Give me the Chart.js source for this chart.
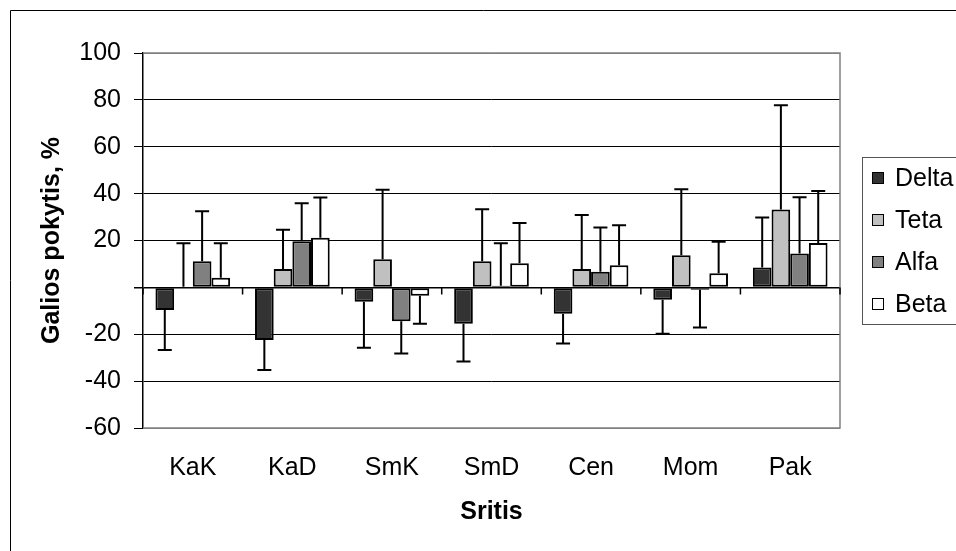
<!DOCTYPE html>
<html>
<head>
<meta charset="utf-8">
<title>Galios pokytis</title>
<script src="https://cdn.jsdelivr.net/npm/chart.js@4.4.1/dist/chart.umd.min.js"></script>
<style>
  html, body { margin: 0; padding: 0; background: #fff; }
  canvas { display: block; }
</style>
</head>
<body>
<canvas id="myChart" width="956" height="551"></canvas>
<script>
// Categories (Sritis)
const categories = ['KaK', 'KaD', 'SmK', 'SmD', 'Cen', 'Mom', 'Pak'];

// Mean power change per band, %
const deltaValues = [-9.6, -22.4, -6.1, -15.5, -11.3, -5.3, 8.5];
const tetaValues  = [0.3, 7.8, 12.0, 11.2, 7.8, 13.7, 33.2];
const alfaValues  = [11.1, 19.7, -14.5, 0.7, 6.7, -1.0, 14.5];
const betaValues  = [4.1, 21.2, -3.6, 10.3, 9.4, 6.0, 18.9];

// Standard deviations (one-sided error bars)
const deltaErrors = [17.1, 12.8, 19.7, 16.1, 12.6, 14.5, 21.3];
const tetaErrors  = [18.5, 16.8, 29.7, 22.1, 23.1, 28.2, 44.5];
const alfaErrors  = [21.4, 16.2, 13.7, 18.1, 18.9, 16.1, 24.0];
const betaErrors  = [14.7, 17.1, 11.9, 17.2, 17.1, 13.5, 22.2];

// Y axis ticks (zero has no label)
const yTickValues = [100, 80, 60, 40, 20, 0, -20, -40, -60];
const yTickLabels = ['100', '80', '60', '40', '20', '', '-20', '-40', '-60'];

const FONT = '"Liberation Sans", Arial, sans-serif';
const FONT_SIZE = 25;

// frame, plot border, axis ticks, error bars and the boxed legend
const extras = {
  id: 'extras',
  beforeDatasetsDraw(chart) {
    const ctx = chart.ctx;
    const a = chart.chartArea;
    ctx.save();
    // outer chart frame (left and top edges)
    ctx.strokeStyle = '#000';
    ctx.lineWidth = 1;
    ctx.beginPath();
    ctx.moveTo(10.5, chart.height);
    ctx.lineTo(10.5, 10.5);
    ctx.lineTo(chart.width, 10.5);
    ctx.stroke();
    // grey plot area border
    ctx.strokeStyle = '#808080';
    ctx.lineWidth = 1.5;
    ctx.beginPath();
    ctx.moveTo(a.left, a.top);
    ctx.lineTo(a.right, a.top);
    ctx.lineTo(a.right, a.bottom);
    ctx.lineTo(a.left, a.bottom);
    ctx.stroke();
    ctx.restore();
  },
  afterDatasetsDraw(chart) {
    const ctx = chart.ctx;
    const x = chart.scales.x;
    const y = chart.scales.y;
    const zero = y.getPixelForValue(0);
    ctx.save();
    // category separators on the zero line
    ctx.strokeStyle = '#000';
    ctx.lineWidth = 1.5;
    ctx.beginPath();
    for (let i = 0; i <= categories.length; i++) {
      const px = i === 0 ? chart.chartArea.left
        : i === categories.length ? chart.chartArea.right
        : (x.getPixelForValue(i - 1) + x.getPixelForValue(i)) / 2;
      ctx.moveTo(px, zero);
      ctx.lineTo(px, zero + 7);
    }
    ctx.stroke();

    // error bars, drawn away from zero
    ctx.lineWidth = 2;
    chart.data.datasets.forEach((ds, di) => {
      const meta = chart.getDatasetMeta(di);
      meta.data.forEach((bar, i) => {
        const v = ds.data[i];
        const e = ds.errors[i];
        const end = v >= 0 ? v + e : v - e;
        const y0 = y.getPixelForValue(v);
        const y1 = y.getPixelForValue(end);
        ctx.beginPath();
        ctx.moveTo(bar.x, y0);
        ctx.lineTo(bar.x, y1);
        ctx.moveTo(bar.x - 7, y1);
        ctx.lineTo(bar.x + 7, y1);
        ctx.stroke();
      });
    });
    ctx.restore();
  },
  afterDraw(chart) {
    const ctx = chart.ctx;
    const a = chart.chartArea;
    const sets = chart.data.datasets;
    const rowH = 42;
    const left = a.right + 22;
    const h = rowH * sets.length - 1;
    const top = (a.top + a.bottom) / 2 - h / 2;
    ctx.save();
    ctx.strokeStyle = '#555';
    ctx.lineWidth = 1;
    ctx.strokeRect(left + 0.5, Math.round(top) + 0.5, chart.width, Math.round(h));
    ctx.font = FONT_SIZE + 'px ' + FONT;
    ctx.textBaseline = 'middle';
    ctx.fillStyle = '#000';
    sets.forEach((ds, i) => {
      const cy = top + rowH * (i + 0.5);
      ctx.fillStyle = ds.backgroundColor;
      ctx.fillRect(left + 10, cy - 6, 12, 12);
      ctx.strokeStyle = '#000';
      ctx.strokeRect(left + 10.5, cy - 5.5, 11, 11);
      ctx.fillStyle = '#000';
      ctx.fillText(ds.label, left + 33, cy + 1);
    });
    ctx.restore();
  }
};

function band(label, values, errors, color) {
  return {
    label: label,
    data: values,
    errors: errors,
    backgroundColor: color,
    borderColor: '#000',
    borderWidth: 2,
    borderSkipped: false,
    barPercentage: 1.0,
    categoryPercentage: 0.75
  };
}

new Chart(document.getElementById('myChart'), {
  type: 'bar',
  data: {
    labels: categories,
    datasets: [
      band('Delta', deltaValues, deltaErrors, '#333333'),
      band('Teta', tetaValues, tetaErrors, '#c0c0c0'),
      band('Alfa', alfaValues, alfaErrors, '#808080'),
      band('Beta', betaValues, betaErrors, '#ffffff')
    ]
  },
  options: {
    responsive: false,
    animation: false,
    layout: { padding: { left: 0, top: 53, right: 116, bottom: 0 } },
    plugins: {
      legend: { display: false },
      tooltip: { enabled: false }
    },
    scales: {
      x: {
        afterFit(scale) { scale.height = 123; },
        grid: { display: false, drawTicks: false },
        border: { display: false },
        ticks: { color: '#000', padding: 25, font: { family: FONT, size: FONT_SIZE } },
        title: {
          display: true,
          text: 'Sritis',
          color: '#000',
          padding: { top: 0, bottom: 24 },
          font: { family: FONT, size: FONT_SIZE, weight: 'bold' }
        }
      },
      y: {
        min: -60,
        max: 100,
        afterFit(scale) { scale.width = 143; },
        afterBuildTicks(scale) {
          scale.ticks = yTickValues.map(v => ({ value: v }));
        },
        grid: {
          color: (c) => (c.tick && (c.tick.value === 100 || c.tick.value === -60)) ? '#808080' : '#000',
          lineWidth: (c) => (c.tick && c.tick.value === 0) ? 1.5 : 1,
          tickColor: '#000',
          tickLength: 9
        },
        border: { display: true, color: '#000', width: 1.5 },
        ticks: {
          color: '#000',
          padding: 13,
          font: { family: FONT, size: FONT_SIZE },
          callback: (v) => yTickLabels[yTickValues.indexOf(v)]
        },
        title: {
          display: true,
          text: 'Galios pokytis, %',
          color: '#000',
          padding: { top: 37, bottom: 0 },
          font: { family: FONT, size: FONT_SIZE, weight: 'bold' }
        }
      }
    }
  },
  plugins: [extras]
});
</script>
</body>
</html>
